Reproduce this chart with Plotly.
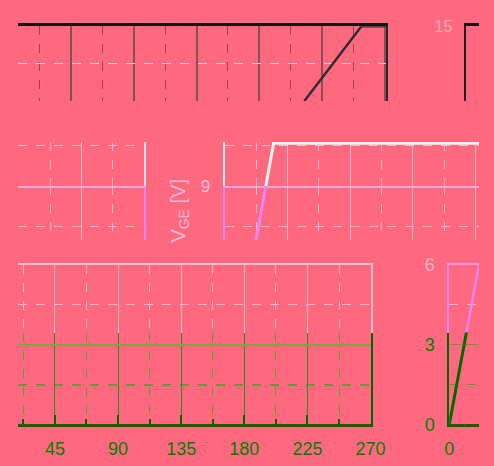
import plotly.graph_objects as go

W, H = 494, 466
BG = "rgb(255,105,128)"
PINK = "rgb(255,185,205)"
VIOLET = "rgb(240,130,245)"
GREEN = "rgb(0,128,0)"
DKGREEN = "rgb(0,105,0)"
GRIDGREEN = "rgb(90,160,50)"
FONT = "Liberation Sans, Arial, sans-serif"

# ---- data ----
top_x = [4.72, 5.63, 6.02]
top_y = [0.0, 2.0, 2.0]
vge_x = [0.5, 0.78, 4.1]
vge_y = [7.0, 10.6, 10.6]
ramp_x = [0, 10]
ramp_y = [0, 6]
angle_ticks = [45, 90, 135, 180, 225, 270]
right_ticks = [0, 3, 6]
vge_tick = [9]
top_right_tick = [15]


def dx(p):
    return p / W


def dy(p):
    return 1 - p / H


fig = go.Figure()

# panel A (top)
fig.add_trace(go.Scatter(x=top_x, y=top_y, mode="lines", xaxis="x", yaxis="y",
                         line=dict(color="rgb(45,45,45)", width=2.5)))
# panel D (V_GE) same series on two stacked bands
fig.add_trace(go.Scatter(x=vge_x, y=vge_y, mode="lines", xaxis="x5", yaxis="y5",
                         line=dict(color="rgb(235,245,240)", width=3)))
fig.add_trace(go.Scatter(x=vge_x, y=vge_y, mode="lines", xaxis="x6", yaxis="y6",
                         line=dict(color=VIOLET, width=3)))
# panel F (bottom right)
fig.add_trace(go.Scatter(x=ramp_x, y=ramp_y, mode="lines", xaxis="x9", yaxis="y9",
                         line=dict(color=VIOLET, width=2.5)))
fig.add_trace(go.Scatter(x=ramp_x, y=ramp_y, mode="lines", xaxis="x10", yaxis="y10",
                         line=dict(color=DKGREEN, width=3)))
# empty carriers so frame-only panels are created
for xa, ya in [("x2", "y2"), ("x3", "y3"), ("x4", "y4"), ("x7", "y7"), ("x8", "y8")]:
    fig.add_trace(go.Scatter(x=[], y=[], mode="lines", xaxis=xa, yaxis=ya, hoverinfo="skip"))

noax = dict(zeroline=False, showticklabels=False, ticks="")

layout = dict(
    width=W, height=H, autosize=False,
    margin=dict(l=0, r=0, t=0, b=0),
    paper_bgcolor=BG, plot_bgcolor=BG,
    showlegend=False,
    font=dict(family=FONT),
)

# A
layout["xaxis"] = dict(domain=[dx(14), dx(397)], range=[0.16, 6.02], anchor="y", side="top",
                       showline=True, linecolor="rgb(20,20,20)", linewidth=2.5,
                       tick0=0, dtick=1, showgrid=True, gridcolor="rgb(135,80,85)", gridwidth=1.5,
                       minor=dict(dtick=0.5, tick0=0, showgrid=True, gridcolor="rgb(160,65,75)",
                                  griddash="dash", gridwidth=1), **noax)
layout["yaxis"] = dict(domain=[dy(95), dy(17)], range=[0, 2], anchor="x", side="right",
                       showline=True, linecolor="rgb(40,40,40)", linewidth=2,
                       tickvals=[1], showgrid=True, gridcolor="rgb(255,200,210)", griddash="dash",
                       **noax)
# B
layout["xaxis2"] = dict(domain=[dx(480), 1], range=[0, 1], anchor="y2", side="top",
                        showline=True, linecolor="rgb(20,20,20)", linewidth=2.5, showgrid=False, **noax)
layout["yaxis2"] = dict(domain=[dy(95), dy(17)], range=[-15, 15.2], anchor="x2", side="left",
                        showline=True, linecolor="rgb(30,30,30)", linewidth=2, showgrid=False,
                        zeroline=False, tickvals=top_right_tick, ticks="", ticklabelstandoff=8,
                        tickfont=dict(size=16, color="rgb(240,170,180)"))
# C
cgrid = dict(tick0=0, dtick=1, showgrid=True, gridcolor=PINK, gridwidth=1,
             minor=dict(dtick=0.5, tick0=0, showgrid=True, gridcolor=PINK, griddash="dash"))
layout["xaxis3"] = dict(domain=[dx(14), dx(145)], range=[-0.006, 2.0], anchor="y3", side="bottom",
                        showline=True, linecolor="rgb(250,165,215)", linewidth=2, **cgrid, **noax)
layout["yaxis3"] = dict(domain=[dy(184), dy(138)], range=[9, 10.64], anchor="x3", side="right",
                        showline=True, linecolor="rgb(245,225,230)", linewidth=2,
                        tick0=0, dtick=3, showgrid=False,
                        minor=dict(dtick=1.5, tick0=0, showgrid=True, gridcolor=PINK, griddash="dash"),
                        **noax)
layout["xaxis4"] = dict(domain=[dx(14), dx(145)], range=[-0.006, 2.0], anchor="y4", showline=False,
                        **cgrid, **noax)
layout["yaxis4"] = dict(domain=[dy(240), dy(184)], range=[7, 9], anchor="x4", side="right",
                        showline=True, linecolor=VIOLET, linewidth=2, tick0=0, dtick=3, showgrid=False,
                        minor=dict(dtick=1.5, tick0=0, showgrid=True, gridcolor=PINK, griddash="dash"),
                        **noax)
# D
drange = [0, 265 / 65.3]
layout["xaxis5"] = dict(domain=[dx(229), 1], range=drange, anchor="y5", side="bottom",
                        showline=True, linecolor="rgb(250,165,215)", linewidth=2, **cgrid, **noax)
layout["yaxis5"] = dict(domain=[dy(184), dy(138)], range=[9, 10.64], anchor="x5", side="left",
                        showline=True, linecolor="rgb(250,240,240)", linewidth=2,
                        tick0=0, dtick=3, showgrid=False,
                        minor=dict(dtick=1.5, tick0=0, showgrid=True, gridcolor=PINK, griddash="dash"),
                        **noax)
layout["xaxis6"] = dict(domain=[dx(229), 1], range=drange, anchor="y6", showline=False, **cgrid, **noax)
layout["yaxis6"] = dict(domain=[dy(240), dy(184)], range=[7, 9], anchor="x6", side="left",
                        showline=True, linecolor=VIOLET, linewidth=2, zeroline=False,
                        tickvals=vge_tick, ticks="", ticklabelstandoff=9, showgrid=False,
                        tickfont=dict(size=17, color="rgb(255,190,215)"),
                        minor=dict(dtick=1.5, tick0=0, showgrid=True, gridcolor=PINK, griddash="dash"))
# E
layout["xaxis7"] = dict(domain=[dx(14), dx(381)], range=[19, 270], anchor="y7", side="top",
                        showline=True, linecolor="rgb(255,190,210)", linewidth=2,
                        tick0=0, dtick=45, showgrid=True, gridcolor=PINK, gridwidth=1,
                        minor=dict(dtick=22.5, tick0=0, showgrid=True, gridcolor=PINK, griddash="dash"),
                        **noax)
layout["yaxis7"] = dict(domain=[dy(337), dy(266)], range=[3.47, 6.0], anchor="x7", side="right",
                        showline=True, linecolor="rgb(255,185,215)", linewidth=2,
                        tick0=0, dtick=3, showgrid=False,
                        minor=dict(dtick=1.5, tick0=0, showgrid=True, gridcolor=PINK, griddash="dash"),
                        **noax)
layout["xaxis8"] = dict(domain=[dx(14), dx(381)], range=[19, 270], anchor="y8", side="bottom",
                        showline=True, linecolor=DKGREEN, linewidth=3, zeroline=False,
                        tickvals=angle_ticks, ticks="inside", ticklen=9, tickwidth=2, tickcolor=DKGREEN,
                        ticklabelstandoff=6,
                        tickfont=dict(size=18, color=GREEN),
                        showgrid=True, gridcolor="rgb(40,140,30)", gridwidth=1,
                        minor=dict(dtick=22.5, tick0=0, showgrid=True, gridcolor=GRIDGREEN,
                                   griddash="dash", ticks="inside", ticklen=5, tickwidth=2,
                                   tickcolor=DKGREEN))
layout["yaxis8"] = dict(domain=[dy(433), dy(337)], range=[0, 3.47], anchor="x8", side="right",
                        showline=True, linecolor=DKGREEN, linewidth=2,
                        tick0=0, dtick=3, showgrid=True, gridcolor="rgb(120,170,60)", gridwidth=2,
                        minor=dict(dtick=1.5, tick0=0, showgrid=True, gridcolor=GRIDGREEN, griddash="dash"),
                        **noax)
# F
layout["xaxis9"] = dict(domain=[dx(463), 1], range=[0, 10], anchor="y9", side="top",
                        showline=True, linecolor="rgb(245,150,235)", linewidth=2, showgrid=False, **noax)
layout["yaxis9"] = dict(domain=[dy(337), dy(266)], range=[3.47, 6.0], anchor="x9", side="left",
                        showline=True, linecolor=VIOLET, linewidth=2, zeroline=False,
                        tickvals=[right_ticks[2]], ticks="", ticklabelstandoff=9, showgrid=False,
                        tickfont=dict(size=18, color="rgb(255,175,200)"),
                        minor=dict(dtick=1.5, tick0=0, showgrid=True, gridcolor=PINK, griddash="dash"))
layout["xaxis10"] = dict(domain=[dx(463), 1], range=[0, 10], anchor="y10", side="bottom",
                         showline=True, linecolor=DKGREEN, linewidth=3, zeroline=False, showgrid=False,
                         tickvals=[0], ticks="", ticklabelstandoff=6,
                         tickfont=dict(size=18, color=GREEN))
layout["yaxis10"] = dict(domain=[dy(433), dy(337)], range=[0, 3.47], anchor="x10", side="left",
                         showline=True, linecolor=DKGREEN, linewidth=2, zeroline=False,
                         tickvals=right_ticks[:2], ticks="", ticklabelstandoff=9,
                         tickfont=dict(size=18, color=GREEN),
                         showgrid=True, gridcolor=GRIDGREEN, gridwidth=1,
                         minor=dict(dtick=1.5, tick0=0, showgrid=True, gridcolor=GRIDGREEN, griddash="dash"))

layout["annotations"] = [dict(
    text="V<sub>GE</sub> [V]", x=dx(182), y=dy(210), xref="paper", yref="paper",
    showarrow=False, textangle=-90, xanchor="center", yanchor="middle",
    font=dict(size=20, color="rgb(255,185,215)", family=FONT))]

fig.update_layout(**layout)
fig.write_html("out.html", config={"displayModeBar": False},
               post_script="document.body.style.margin='0';document.body.style.overflow='hidden';")
